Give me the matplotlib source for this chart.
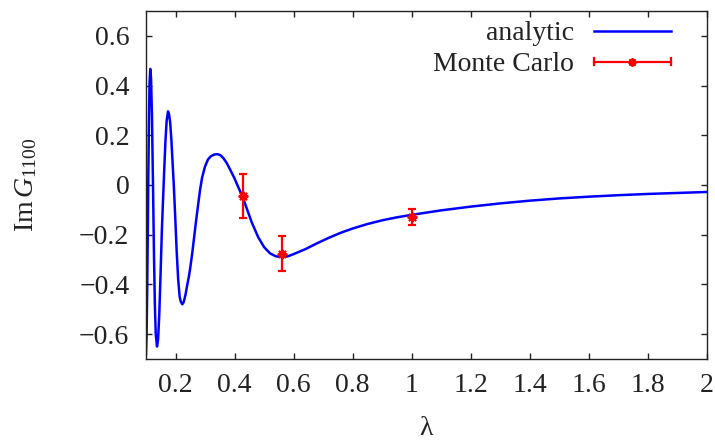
import matplotlib
matplotlib.use("Agg")
import matplotlib.pyplot as plt
from matplotlib.lines import Line2D
from matplotlib.legend_handler import HandlerBase

plt.rcParams["font.family"] = ["Liberation Serif", "DejaVu Serif"]
plt.rcParams["mathtext.fontset"] = "custom"
plt.rcParams["mathtext.rm"] = "Liberation Serif"
plt.rcParams["mathtext.it"] = "Liberation Serif:italic"
plt.rcParams["axes.unicode_minus"] = True

# analytic curve, Im G_1100 as a function of lambda
lam_curve = [0.100, 0.102, 0.104, 0.106, 0.108, 0.110, 0.112, 0.1146, 0.117,
             0.120, 0.1237, 0.127, 0.130, 0.133, 0.1373, 0.141, 0.145, 0.149,
             0.1538, 0.158, 0.162, 0.166, 0.170, 0.1746, 0.178, 0.182, 0.186,
             0.190, 0.1945, 0.199, 0.204, 0.209, 0.214, 0.218, 0.223, 0.228,
             0.234, 0.240, 0.245, 0.249, 0.256, 0.263, 0.270, 0.277, 0.283,
             0.290, 0.300, 0.310, 0.320, 0.332, 0.342, 0.352, 0.362, 0.372,
             0.385, 0.400, 0.413, 0.428, 0.440, 0.458, 0.480, 0.500, 0.520,
             0.540, 0.560, 0.580, 0.600, 0.640, 0.680, 0.720, 0.760, 0.800,
             0.850, 0.900, 0.950, 1.000, 1.100, 1.200, 1.300, 1.400, 1.500,
             1.600, 1.700, 1.800, 1.900, 2.000]
im_g_curve = [-0.68, -0.60, -0.43, -0.20, 0.05, 0.26, 0.41, 0.467, 0.43,
              0.29, 0.00, -0.28, -0.48, -0.60, -0.65, -0.62, -0.52, -0.37,
              -0.18, -0.05, 0.07, 0.18, 0.26, 0.296, 0.285, 0.25, 0.18,
              0.09, -0.01, -0.13, -0.27, -0.38, -0.45, -0.47, -0.48, -0.47,
              -0.44, -0.40, -0.37, -0.34, -0.28, -0.21, -0.14, -0.075, -0.02,
              0.03, 0.075, 0.103, 0.116, 0.123, 0.124, 0.120, 0.108, 0.091,
              0.062, 0.026, -0.01, -0.05, -0.09, -0.15, -0.21, -0.25, -0.275,
              -0.287, -0.29, -0.287, -0.278, -0.258, -0.234, -0.212, -0.192, -0.175,
              -0.157, -0.142, -0.130, -0.120, -0.102, -0.087, -0.074, -0.063, -0.054,
              -0.047, -0.041, -0.036, -0.032, -0.028]

# Monte Carlo estimates with their error bars
lam_mc = [0.43, 0.56, 1.0]
im_g_mc = [-0.044, -0.277, -0.13]
err_mc = [0.089, 0.07, 0.032]

x_ticks = [0.2, 0.4, 0.6, 0.8, 1.0, 1.2, 1.4, 1.6, 1.8, 2.0]
x_tick_labels = ["0.2", "0.4", "0.6", "0.8", "1", "1.2", "1.4", "1.6", "1.8", "2"]
y_ticks = [-0.6, -0.4, -0.2, 0.0, 0.2, 0.4, 0.6]
y_tick_labels = ["\u22120.6", "\u22120.4", "\u22120.2", "0", "0.2", "0.4", "0.6"]

BLUE = "#0000ff"
RED = "#ff0000"
FS = 20


class HorizontalErrorHandler(HandlerBase):
    """Legend key drawn as a horizontal bar with end caps and a centre marker."""

    def create_artists(self, legend, orig_handle, xdescent, ydescent,
                       width, height, fontsize, trans):
        y = height / 2.0 - ydescent
        x0, x1 = -xdescent, width - xdescent
        cap = 0.12 * fontsize
        arts = [
            Line2D([x0, x1], [y, y], color=RED, lw=1.6),
            Line2D([x0, x0], [y - cap, y + cap], color=RED, lw=1.6),
            Line2D([x1, x1], [y - cap, y + cap], color=RED, lw=1.6),
            Line2D([(x0 + x1) / 2.0], [y], color=RED, marker=(8, 2, 0),
                   markersize=6, markeredgewidth=1.4, linestyle="none"),
        ]
        for a in arts:
            a.set_transform(trans)
        return arts


fig = plt.figure(figsize=(7.15, 4.4), dpi=100)
ax = fig.add_axes([0.2042, 0.1841, 0.7846, 0.7909])

line_an, = ax.plot(lam_curve, im_g_curve, color=BLUE, lw=1.8,
                   solid_joinstyle="round", label="analytic")
ax.errorbar(lam_mc, im_g_mc, yerr=err_mc, fmt="none", ecolor=RED,
            elinewidth=1.6, capsize=3.0, capthick=1.6)
ax.plot(lam_mc, im_g_mc, linestyle="none", marker=(8, 2, 0), markersize=7,
        markeredgewidth=1.4, color=RED)

ax.set_xlim(0.1, 2.0)
ax.set_ylim(-0.7, 0.7)
ax.set_xticks(x_ticks, x_tick_labels)
ax.set_yticks(y_ticks, y_tick_labels)

ax.tick_params(direction="in", length=4.5, width=1.0, top=True, right=True,
               labelsize=FS, colors="#222222", pad=10)
ax.tick_params(axis="y", pad=12)
for s in ax.spines.values():
    s.set_linewidth(1.0)
    s.set_color("#222222")

ax.set_xlabel("\u03bb", fontsize=FS, color="#222222", labelpad=13)
ax.set_ylabel(r"$\mathrm{Im}\,G_{1100}$", fontsize=FS, color="#222222")
ax.yaxis.set_label_coords(-0.19, 0.5)

mc_key = Line2D([], [], color=RED)
leg = ax.legend([line_an, mc_key], ["analytic", "Monte Carlo"],
                handler_map={mc_key: HorizontalErrorHandler()},
                loc="upper right", bbox_to_anchor=(1.0, 1.075),
                frameon=False, markerfirst=False,
                fontsize=FS, handlelength=2.77, handletextpad=0.72,
                borderaxespad=0.9, borderpad=0.4, labelspacing=0.2)
for t in leg.get_texts():
    t.set_color("#222222")

fig.savefig("out.png", dpi=100)
